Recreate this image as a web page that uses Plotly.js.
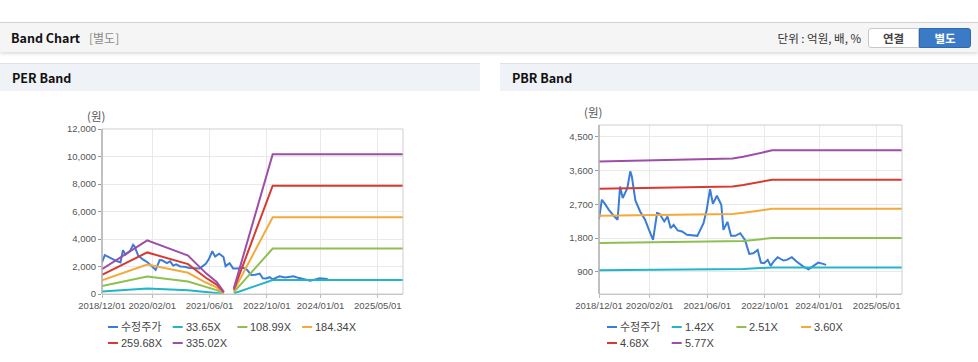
<!DOCTYPE html>
<html><head><meta charset="utf-8">
<script src="https://cdn.plot.ly/plotly-3.0.1.min.js"></script>
<style>
body{margin:0;width:978px;height:362px;overflow:hidden;background:#fff;position:relative;font-family:"Noto Sans CJK KR","Noto Sans",sans-serif}
#bar{position:absolute;left:0;top:22px;width:978px;height:29px;background:#f5f5f5;border-top:1px solid #d2d2d2;box-shadow:0 2px 3px rgba(0,0,0,0.13)}
.tt{position:absolute;top:0;line-height:30px;font-weight:bold;font-size:12.5px;color:#111;white-space:nowrap}
.sub{position:absolute;top:0;line-height:30px;font-size:12px;color:#8a8a8a;white-space:nowrap}
.unit{position:absolute;top:0;right:117px;line-height:30px;font-size:11.5px;color:#333;white-space:nowrap}
.btn{position:absolute;top:5px;height:18px;line-height:18px;font-size:11.5px;font-weight:bold;text-align:center}
.ph{position:absolute;top:63px;height:27px;background:#eff2f7;border-top:1px solid #dde2ea}
.ph span{position:absolute;left:12px;top:0;line-height:28px;font-weight:bold;font-size:12.5px;color:#111}
.chart{position:absolute;top:91px;height:271px}
</style></head>
<body>
<div id="bar">
  <div class="tt" style="left:11px">Band Chart</div>
  <div class="sub" style="left:89px">[별도]</div>
  <div class="unit">단위 : 억원, 배, %</div>
  <div class="btn" style="left:868px;width:49px;background:#fff;border:1px solid #c8c8c8;border-radius:3px 0 0 3px;color:#444">연결</div>
  <div class="btn" style="left:919px;width:50px;background:#3a7ac6;border:1px solid #2f68ad;border-radius:0 3px 3px 0;color:#fff">별도</div>
</div>
<div class="ph" style="left:0;width:480px"><span>PER Band</span></div>
<div class="ph" style="left:500px;width:478px"><span>PBR Band</span></div>
<div id="per" class="chart" style="left:0;width:480px"></div>
<div id="pbr" class="chart" style="left:500px;width:478px"></div>
<script>
// ---- data ----
const priceDates = ["2018-12-01","2018-12-25","2019-01-16","2019-02-22","2019-04-04","2019-05-07","2019-05-28","2019-06-19","2019-07-28","2019-08-22","2019-09-04","2019-10-04","2019-11-13","2019-12-25","2020-02-01","2020-03-01","2020-04-04","2020-04-25","2020-06-04","2020-07-01","2020-07-28","2020-08-22","2020-09-25","2020-11-01","2020-12-13","2021-02-22","2021-03-10","2021-05-01","2021-05-28","2021-06-25","2021-07-19","2021-08-22","2021-09-28","2021-10-16","2021-11-19","2021-12-19","2022-01-25","2022-03-07","2022-04-16","2022-05-22","2022-06-25","2022-08-01","2022-08-28","2022-09-25","2022-10-25","2022-11-19","2022-12-13","2023-01-16","2023-03-07","2023-04-04","2023-05-16","2023-06-25","2023-08-22","2023-10-04","2023-11-16","2023-12-25","2024-02-04","2024-03-01"];
const priceValues = [2308,2825,2735,2557,2397,2290,3180,2870,3136,3582,3448,2807,2513,2290,1978,1755,2468,2450,2245,2379,2067,2156,2005,1978,1889,1871,1862,2200,2557,3110,2718,2931,2691,2023,2236,1862,1862,1933,1755,1381,1399,1488,1149,1132,1221,1060,1176,1292,1203,1221,1292,1176,1043,971,1060,1149,1114,1087];

const perBandDates = ["2018-12-01","2019-12-20","2020-12-01","2021-05-01","2021-08-01","2021-10-01","2021-11-10","2021-12-25","2022-11-20","2025-12-01"];
const per3365  = [181, 392, 281, 153, 88, 15, null, 41, 1020, 1020];
const per10899 = [586, 1269, 911, 494, 286, 49, null, 133, 3304, 3304];
const per18434 = [990, 2146, 1541, 836, 484, 83, null, 226, 5588, 5588];
const per25968 = [1395, 3023, 2170, 1178, 682, 116, null, 318, 7873, 7873];
const per33502 = [1800, 3900, 2800, 1520, 880, 150, null, 410, 10157, 10157];

const pbrBandDates = ["2018-12-01","2019-06-01","2020-01-01","2020-09-01","2022-01-01","2022-04-01","2022-12-01","2025-12-01"];
const pbr142 = [947, 950, 956, 961, 966, 977, 1020, 1020];
const pbr251 = [1674, 1679, 1689, 1699, 1707, 1727, 1802, 1802];
const pbr360 = [2401, 2408, 2423, 2437, 2448, 2477, 2585, 2585];
const pbr468 = [3122, 3131, 3150, 3168, 3182, 3220, 3360, 3360];
const pbr577 = [3849, 3860, 3883, 3906, 3924, 3970, 4143, 4143];

const perLabels = ["수정주가","33.65X","108.99X","184.34X","259.68X","335.02X"];
const pbrLabels = ["수정주가","1.42X","2.51X","3.60X","4.68X","5.77X"];
const xTickVals = ["2018-12-01","2020-02-01","2021-06-01","2022-10-01","2024-01-01","2025-05-01"];
const xTickText = ["2018/12/01","2020/02/01","2021/06/01","2022/10/01","2024/01/01","2025/05/01"];
const perYTicks = [0,2000,4000,6000,8000,10000,12000];
const pbrYTicks = [900,1800,2700,3600,4500];
const unitLabel = "(원)";

// ---- styling ----
const colors = ["#3a7dd6","#22b5c8","#8dc050","#f3a93b","#d83a31","#9d4ea7"];
const tickFont = {family:'"Liberation Sans",Arial,sans-serif', size:9.5, color:'#555'};
const legFont = {family:'"Liberation Sans",Arial,"Noto Sans CJK KR",sans-serif', size:11, color:'#444'};

function makeTraces(bandDates, bands, labels){
  const tr = [{x:priceDates, y:priceValues, name:labels[0], type:'scatter', mode:'lines', line:{color:colors[0], width:2}}];
  bands.forEach((b,i)=>tr.push({x:bandDates, y:b, name:labels[i+1], type:'scatter', mode:'lines', connectgaps:false, line:{color:colors[i+1], width:2}}));
  return tr;
}
function decor(labels, leftOff){
  const shapes=[{type:'rect',xref:'paper',yref:'paper',x0:0,x1:1,y0:0,y1:1,line:{color:'#cfcfcf',width:1}},
                {type:'line',xref:'paper',yref:'paper',x0:0,x1:0,y0:0,y1:1,line:{color:'#9a9a9a',width:1}}];
  const ann=[];
  labels.forEach((lab,i)=>{
    const col=i%4,row=Math.floor(i/4);
    const x0=leftOff+col*64.7, dy=-(33+row*16);
    shapes.push({type:'line',xref:'paper',yref:'paper',xsizemode:'pixel',ysizemode:'pixel',xanchor:0,yanchor:0,x0:x0,x1:x0+10,y0:dy,y1:dy,line:{color:colors[i],width:2}});
    ann.push({xref:'paper',yref:'paper',x:0,y:0,xanchor:'left',yanchor:'middle',xshift:x0+11,yshift:dy,text:lab,showarrow:false,font:legFont});
  });
  ann.push({xref:'paper',yref:'paper',x:0,y:1,xanchor:'center',yanchor:'middle',xshift:-6,yshift:13,text:unitLabel,showarrow:false,font:{family:'"Noto Sans CJK KR",sans-serif',size:11.5,color:'#555'}});
  return {shapes, ann};
}
function makeLayout(margin, yrange, yticks, labels, leftOff){
  const d = decor(labels, leftOff);
  return {
    width: margin.w, height:271, margin:{l:margin.l,r:margin.r,t:margin.t,b:margin.b},
    paper_bgcolor:'rgba(0,0,0,0)', plot_bgcolor:'#fff', showlegend:false,
    xaxis:{type:'date', range:['2018-12-01','2025-12-01'], tickvals:xTickVals, ticktext:xTickText, tickangle:0, showgrid:true, gridcolor:'#e9e9e9', gridwidth:1,
      showline:true, linecolor:'#bdbdbd', ticks:'outside', ticklen:3, tickcolor:'#bbb', tickfont:tickFont, zeroline:false, fixedrange:true},
    yaxis:{range:yrange, tickvals:yticks, tickformat:',d', showgrid:true, gridcolor:'#e9e9e9', showline:false,
      ticks:'outside', ticklen:3, tickcolor:'#999', tickfont:tickFont, zeroline:false, fixedrange:true},
    shapes:d.shapes, annotations:d.ann
  };
}
const cfg={displayModeBar:false, staticPlot:true};
Plotly.newPlot('per', makeTraces(perBandDates,[per3365,per10899,per18434,per25968,per33502],perLabels),
  makeLayout({w:480,l:102,r:77,t:38,b:68},[0,12000],perYTicks,perLabels,6), cfg);
Plotly.newPlot('pbr', makeTraces(pbrBandDates,[pbr142,pbr251,pbr360,pbr468,pbr577],pbrLabels),
  makeLayout({w:478,l:99,r:76,t:34,b:68},[310,4820],pbrYTicks,pbrLabels,8), cfg);
</script>
</body></html>
